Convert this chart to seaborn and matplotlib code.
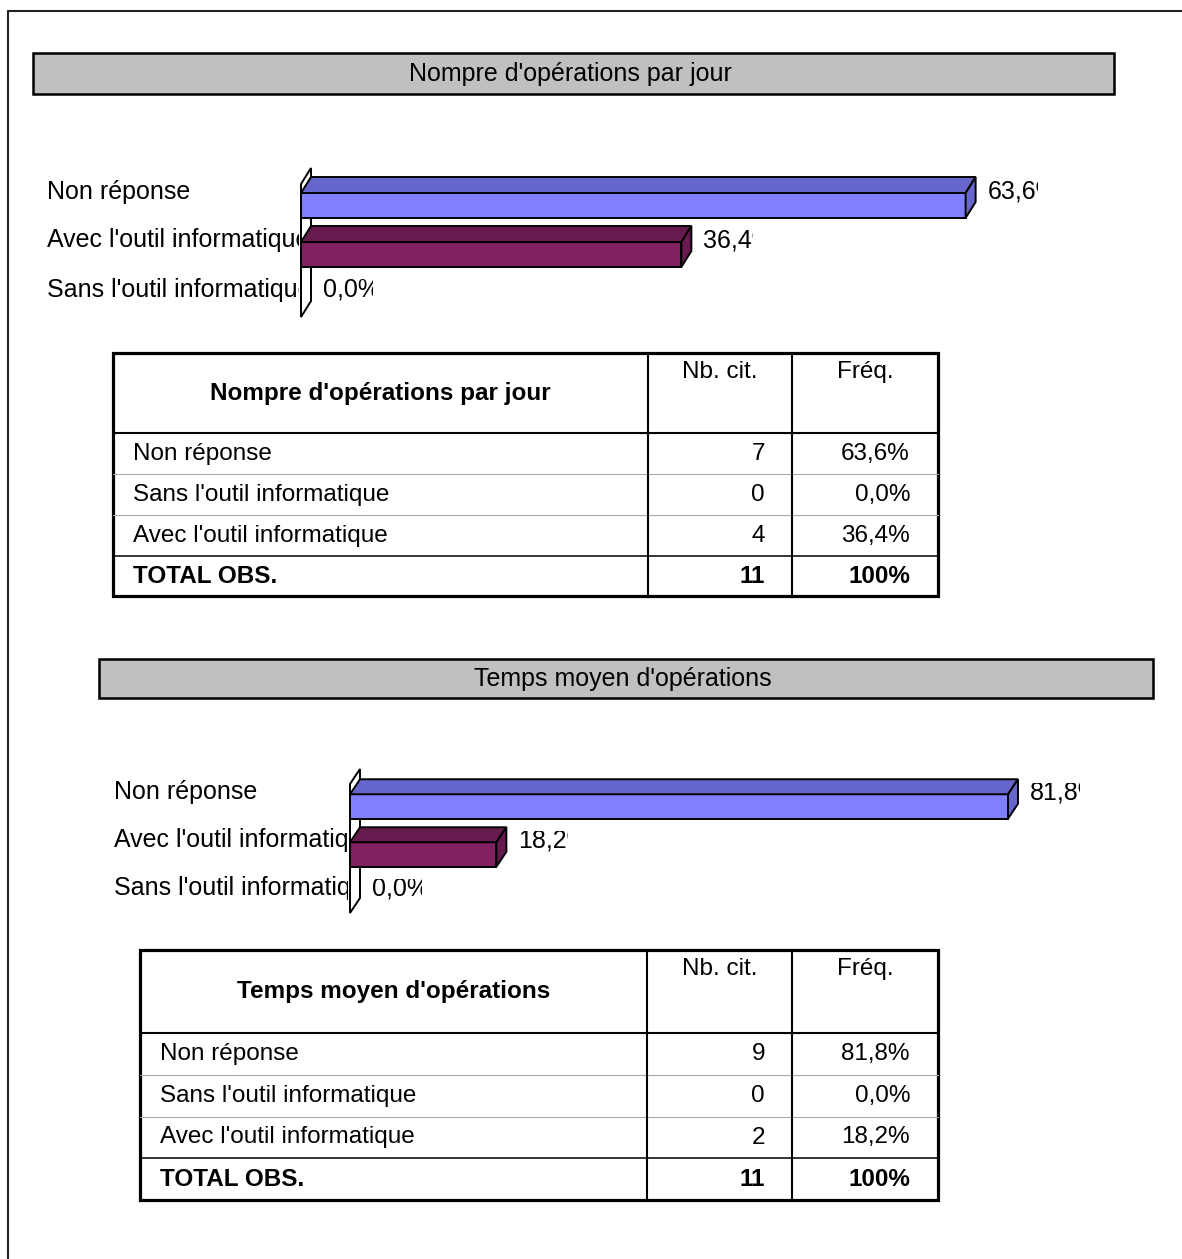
import matplotlib
matplotlib.use("Agg")
import matplotlib.pyplot as plt
from matplotlib.patches import Rectangle, Polygon
import seaborn as sns
import pandas as pd

W, H = 1182, 1259
DPI = 100

sns.set_style("white")
plt.rcParams["font.family"] = ["Liberation Sans", "DejaVu Sans"]
plt.rcParams["text.color"] = "black"

# ---- data -------------------------------------------------------------
bar_order = ["Non réponse", "Avec l'outil informatique", "Sans l'outil informatique"]
table_order = ["Non réponse", "Sans l'outil informatique", "Avec l'outil informatique"]

title1 = "Nompre d'opérations par jour"
counts1 = [7, 0, 4]
freq1 = [63.6, 0.0, 36.4]
total1 = 11

title2 = "Temps moyen d'opérations"
counts2 = [9, 0, 2]
freq2 = [81.8, 0.0, 18.2]
total2 = 11

col_headers = ["Nb. cit.", "Fréq."]
total_label = "TOTAL OBS."
total_freq = "100%"

front_colors = {
    "Non réponse": "#8080FF",
    "Avec l'outil informatique": "#802060",
    "Sans l'outil informatique": "#FFFFFF",
}
shade_colors = {
    "Non réponse": "#6666CC",
    "Avec l'outil informatique": "#661A4D",
    "Sans l'outil informatique": "#FFFFFF",
}

FS = 18
FS_TAB = 17.5
VALUE_BOX_PX = 50   # width of the box each value label is fitted into


def px_rect(x0, y0, x1, y1):
    return [x0 / W, 1 - y1 / H, (x1 - x0) / W, (y1 - y0) / H]


def fmt_pct(v):
    return f"{v:.1f}%".replace(".", ",")


def draw_bars(fig, freqs, zero_px, px_per_pct, right_px, cat0_px, slot_px,
              top_px, bottom_px, label_left, depth, wall_px):
    df = pd.DataFrame({"cat": table_order, "freq": freqs})
    value_of = dict(zip(table_order, freqs))
    pad = 6
    ax = fig.add_axes(px_rect(zero_px - pad, top_px, right_px, bottom_px))
    ax.patch.set_alpha(0)
    sns.barplot(data=df, x="freq", y="cat", order=bar_order, hue="cat",
                hue_order=bar_order, palette=front_colors, legend=False,
                orient="h", width=0.51, edgecolor="black", linewidth=1.4,
                saturation=1, ax=ax, zorder=3)
    bars = list(ax.patches)
    ylim = ((bottom_px - cat0_px) / slot_px, -(cat0_px - top_px) / slot_px)
    ax.set_xlim(-pad / px_per_pct, (right_px - zero_px) / px_per_pct)
    ax.set_ylim(*ylim)
    ax.axis("off")

    ddx = depth[0] / px_per_pct
    ddy = depth[1] / slot_px

    # thin back wall of the 3D chart
    wt = (wall_px[0] - cat0_px) / slot_px
    wb = (wall_px[1] - cat0_px) / slot_px
    ax.add_patch(Polygon([(0, wb), (0, wt), (ddx, wt - ddy), (ddx, wb - ddy)],
                         closed=True, facecolor="white", edgecolor="black",
                         lw=1.4, zorder=1))

    label_dy = 14 / slot_px
    box_w = VALUE_BOX_PX / px_per_pct
    for bar in bars:
        yc = bar.get_y() + bar.get_height() / 2
        idx = int(round(yc))
        cat = bar_order[idx]
        x1 = bar.get_width()
        ytop = bar.get_y()
        ybot = ytop + bar.get_height()
        if x1 > 0:
            ax.add_patch(Polygon([(0, ytop), (x1, ytop), (x1 + ddx, ytop - ddy),
                                  (ddx, ytop - ddy)], closed=True,
                                 facecolor=shade_colors[cat], edgecolor="black",
                                 lw=1.4, zorder=3))
            ax.add_patch(Polygon([(x1, ytop), (x1, ybot), (x1 + ddx, ybot - ddy),
                                  (x1 + ddx, ytop - ddy)], closed=True,
                                 facecolor=shade_colors[cat], edgecolor="black",
                                 lw=1.4, zorder=3))
        else:
            bar.set_visible(False)
        x_txt = x1 + 22 / px_per_pct
        t = ax.text(x_txt, idx - label_dy, fmt_pct(value_of[cat]),
                    ha="left", va="center", fontsize=FS)
        clip = Rectangle((x_txt - 0.2, idx - 0.5), box_w + 0.2, 1.0,
                         transform=ax.transData, visible=False)
        ax.add_patch(clip)
        t.set_clip_path(clip)
        t.set_clip_on(True)

    # category labels, cut at the wall
    lab = fig.add_axes(px_rect(label_left, top_px, zero_px - 2, bottom_px))
    lab.patch.set_alpha(0)
    lab.set_xlim(0, 1)
    lab.set_ylim(*ylim)
    lab.axis("off")
    for i, cat in enumerate(bar_order):
        lab.text(0, i - label_dy, cat, ha="left", va="center", fontsize=FS,
                 clip_on=True)


def draw_title_box(ax, x0, y0, x1, y1, text):
    ax.add_patch(Rectangle((x0, y0), x1 - x0, y1 - y0, facecolor="#C0C0C0",
                           edgecolor="black", lw=1.8))
    ax.text((x0 + x1) / 2 - 3, (y0 + y1) / 2, text, ha="center", va="center",
            fontsize=FS)


def draw_table(ax, left, right, cols, rows, header, counts, freqs, total):
    c1, c2 = cols
    # thin grey separators between data rows
    for y in rows[2:4]:
        ax.plot([left, right], [y, y], color="#A8A8A8", lw=0.8)
    ax.plot([left, right], [rows[1], rows[1]], color="black", lw=1.5)
    ax.plot([left, right], [rows[4], rows[4]], color="black", lw=1.1)
    for x in cols:
        ax.plot([x, x], [rows[0], rows[-1]], color="black", lw=1.5)
    ax.add_patch(Rectangle((left, rows[0]), right - left, rows[-1] - rows[0],
                           fill=False, edgecolor="black", lw=2.3))

    ax.text((left + c1) / 2, (rows[0] + rows[1]) / 2, header, ha="center",
            va="center", fontsize=FS_TAB, fontweight="bold")
    ax.text((c1 + c2) / 2, rows[0] + 19, col_headers[0], ha="center",
            va="center", fontsize=FS_TAB)
    ax.text((c2 + right) / 2, rows[0] + 19, col_headers[1], ha="center",
            va="center", fontsize=FS_TAB)

    for i, (cat, n, f) in enumerate(zip(table_order, counts, freqs)):
        yc = (rows[i + 1] + rows[i + 2]) / 2
        ax.text(left + 20, yc, cat, ha="left", va="center", fontsize=FS_TAB)
        ax.text(c2 - 27, yc, str(n), ha="right", va="center", fontsize=FS_TAB)
        ax.text(right - 28, yc, fmt_pct(f), ha="right", va="center",
                fontsize=FS_TAB)
    yc = (rows[4] + rows[5]) / 2
    ax.text(left + 20, yc, total_label, ha="left", va="center",
            fontsize=FS_TAB, fontweight="bold")
    ax.text(c2 - 27, yc, str(total), ha="right", va="center",
            fontsize=FS_TAB, fontweight="bold")
    ax.text(right - 28, yc, total_freq, ha="right", va="center",
            fontsize=FS_TAB, fontweight="bold")


fig = plt.figure(figsize=(W / DPI, H / DPI), dpi=DPI)
fig.patch.set_facecolor("white")

page = fig.add_axes([0, 0, 1, 1])
page.set_xlim(0, W)
page.set_ylim(H, 0)
page.axis("off")

# page frame
page.plot([8, 8], [11, H], color="#222222", lw=1.5)
page.plot([8, W], [11, 11], color="#222222", lw=1.5)

# first block
draw_title_box(page, 33, 53, 1114, 94, title1)
draw_bars(fig, freq1, zero_px=301, px_per_pct=10.45, right_px=1038,
          cat0_px=205.5, slot_px=49, top_px=150, bottom_px=335,
          label_left=47, depth=(10, 16), wall_px=(184, 317))
draw_table(page, 113, 938, (648, 792), [353, 433, 474, 515, 556, 596],
           title1, counts1, freq1, total1)

# second block
draw_title_box(page, 99, 659, 1153, 698, title2)
draw_bars(fig, freq2, zero_px=350, px_per_pct=8.044, right_px=1081,
          cat0_px=806.5, slot_px=48, top_px=755, bottom_px=930,
          label_left=114, depth=(10, 15), wall_px=(784, 913))
draw_table(page, 140, 938, (647, 792), [950, 1033, 1075, 1117, 1158, 1200],
           title2, counts2, freq2, total2)

fig.savefig("out.png", dpi=DPI)
